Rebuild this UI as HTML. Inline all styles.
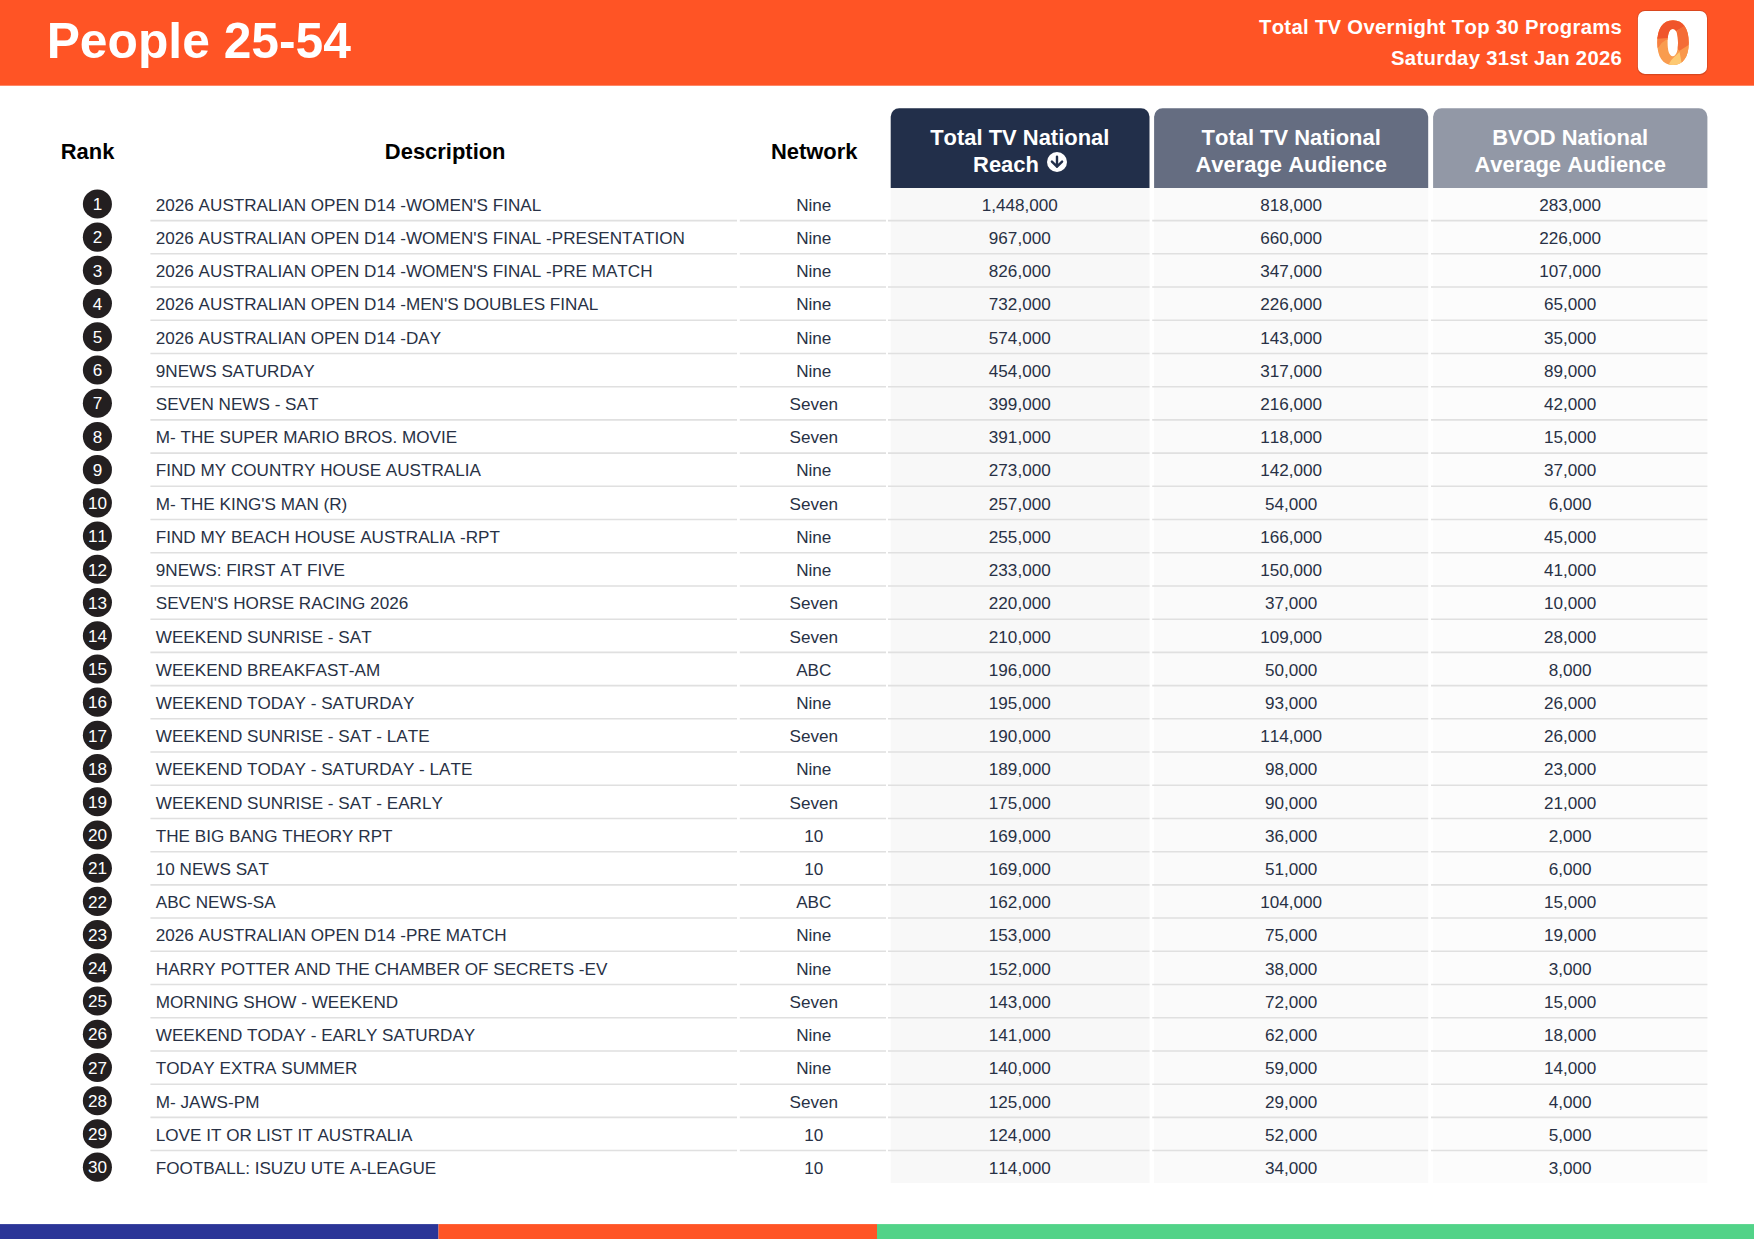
<!DOCTYPE html>
<html lang="en">
<head>
<meta charset="utf-8">
<title>People 25-54 - Total TV Overnight Top 30 Programs</title>
<style>
html,body{margin:0;padding:0;background:#fff;}
body{width:1754px;height:1241px;position:relative;overflow:hidden;font-family:"Liberation Sans",Arial,Helvetica,sans-serif;font-kerning:none;font-feature-settings:"kern" 0,"liga" 0;}
.geo{position:absolute;left:0;top:0;}
.title{position:absolute;left:46.7px;top:12px;font-size:49.75px;line-height:58px;font-weight:bold;color:#fff;white-space:nowrap;}
.sub{position:absolute;right:131.8px;font-size:20.3px;line-height:24px;font-weight:bold;color:#fff;white-space:nowrap;text-align:right;letter-spacing:0.31px;}
.sub1{top:15px;}
.sub2{top:46px;}
.logo{position:absolute;left:1638px;top:10.8px;width:70px;height:64px;}
.th{position:absolute;font-weight:bold;font-size:21.95px;line-height:27px;color:#000;text-align:center;white-space:nowrap;}
.mh{position:absolute;top:124px;color:#fff;font-weight:bold;font-size:21.95px;line-height:27px;text-align:center;white-space:nowrap;}
.ic{position:absolute;left:1046.9px;top:151.9px;}
.rn{position:absolute;left:72.4px;width:50px;height:20px;line-height:20px;font-size:17.12px;color:#fff;text-align:center;}
.c{position:absolute;height:20px;line-height:20px;font-size:17.12px;color:#283145;white-space:nowrap;text-align:center;}
.d{left:155.8px;width:580px;text-align:left;}
.n{left:741.5px;width:144.5px;}
.m1{left:890.2px;width:259.2px;}
.m2{left:1154.2px;width:274px;}
.m3{left:1433px;width:274.4px;}
</style>
</head>
<body>
<svg class="geo" width="1754" height="1241" viewBox="0 0 1754 1241">
<rect x="0" y="0" width="1754" height="85.7" fill="#ff5425"/>
<rect x="1637.1" y="10.1" width="70.7" height="65.1" rx="7.8" ry="7.8" fill="#000" fill-opacity="0.15"/>
<rect x="1637.9" y="10.9" width="69.1" height="63" rx="7" ry="7" fill="#fff"/>
<rect x="890.7" y="187.9" width="258.80" height="995.10" fill="#f8f8f8"/>
<rect x="1154.1" y="187.9" width="274.10" height="995.10" fill="#fafafa"/>
<rect x="1433.1" y="187.9" width="274.30" height="995.10" fill="#fcfcfc"/>
<path d="M890.7 187.9 V116.7 A8.5 8.5 0 0 1 899.2 108.2 H1141.0 A8.5 8.5 0 0 1 1149.5 116.7 V187.9 Z" fill="#222f4a"/>
<path d="M1154.1 187.9 V116.7 A8.5 8.5 0 0 1 1162.6 108.2 H1419.7 A8.5 8.5 0 0 1 1428.2 116.7 V187.9 Z" fill="#656d81"/>
<path d="M1433.1 187.9 V116.7 A8.5 8.5 0 0 1 1441.6 108.2 H1698.9 A8.5 8.5 0 0 1 1707.4 116.7 V187.9 Z" fill="#9298a6"/>
<circle cx="97.4" cy="203.95" r="14.55" fill="#231f20"/>
<path d="M150.4 220.62H737.0M739.8 220.62H886.0M888.0 220.62H1149.5M1152.2 220.62H1428.2M1431.0 220.62H1707.4" stroke="#e0e0e0" stroke-width="1.56" fill="none"/>
<circle cx="97.4" cy="237.16" r="14.55" fill="#231f20"/>
<path d="M150.4 253.83H737.0M739.8 253.83H886.0M888.0 253.83H1149.5M1152.2 253.83H1428.2M1431.0 253.83H1707.4" stroke="#e0e0e0" stroke-width="1.56" fill="none"/>
<circle cx="97.4" cy="270.38" r="14.55" fill="#231f20"/>
<path d="M150.4 287.05H737.0M739.8 287.05H886.0M888.0 287.05H1149.5M1152.2 287.05H1428.2M1431.0 287.05H1707.4" stroke="#e0e0e0" stroke-width="1.56" fill="none"/>
<circle cx="97.4" cy="303.59" r="14.55" fill="#231f20"/>
<path d="M150.4 320.26H737.0M739.8 320.26H886.0M888.0 320.26H1149.5M1152.2 320.26H1428.2M1431.0 320.26H1707.4" stroke="#e0e0e0" stroke-width="1.56" fill="none"/>
<circle cx="97.4" cy="336.80" r="14.55" fill="#231f20"/>
<path d="M150.4 353.47H737.0M739.8 353.47H886.0M888.0 353.47H1149.5M1152.2 353.47H1428.2M1431.0 353.47H1707.4" stroke="#e0e0e0" stroke-width="1.56" fill="none"/>
<circle cx="97.4" cy="370.01" r="14.55" fill="#231f20"/>
<path d="M150.4 386.69H737.0M739.8 386.69H886.0M888.0 386.69H1149.5M1152.2 386.69H1428.2M1431.0 386.69H1707.4" stroke="#e0e0e0" stroke-width="1.56" fill="none"/>
<circle cx="97.4" cy="403.23" r="14.55" fill="#231f20"/>
<path d="M150.4 419.90H737.0M739.8 419.90H886.0M888.0 419.90H1149.5M1152.2 419.90H1428.2M1431.0 419.90H1707.4" stroke="#e0e0e0" stroke-width="1.56" fill="none"/>
<circle cx="97.4" cy="436.44" r="14.55" fill="#231f20"/>
<path d="M150.4 453.11H737.0M739.8 453.11H886.0M888.0 453.11H1149.5M1152.2 453.11H1428.2M1431.0 453.11H1707.4" stroke="#e0e0e0" stroke-width="1.56" fill="none"/>
<circle cx="97.4" cy="469.65" r="14.55" fill="#231f20"/>
<path d="M150.4 486.32H737.0M739.8 486.32H886.0M888.0 486.32H1149.5M1152.2 486.32H1428.2M1431.0 486.32H1707.4" stroke="#e0e0e0" stroke-width="1.56" fill="none"/>
<circle cx="97.4" cy="502.87" r="14.55" fill="#231f20"/>
<path d="M150.4 519.54H737.0M739.8 519.54H886.0M888.0 519.54H1149.5M1152.2 519.54H1428.2M1431.0 519.54H1707.4" stroke="#e0e0e0" stroke-width="1.56" fill="none"/>
<circle cx="97.4" cy="536.08" r="14.55" fill="#231f20"/>
<path d="M150.4 552.75H737.0M739.8 552.75H886.0M888.0 552.75H1149.5M1152.2 552.75H1428.2M1431.0 552.75H1707.4" stroke="#e0e0e0" stroke-width="1.56" fill="none"/>
<circle cx="97.4" cy="569.29" r="14.55" fill="#231f20"/>
<path d="M150.4 585.96H737.0M739.8 585.96H886.0M888.0 585.96H1149.5M1152.2 585.96H1428.2M1431.0 585.96H1707.4" stroke="#e0e0e0" stroke-width="1.56" fill="none"/>
<circle cx="97.4" cy="602.51" r="14.55" fill="#231f20"/>
<path d="M150.4 619.18H737.0M739.8 619.18H886.0M888.0 619.18H1149.5M1152.2 619.18H1428.2M1431.0 619.18H1707.4" stroke="#e0e0e0" stroke-width="1.56" fill="none"/>
<circle cx="97.4" cy="635.72" r="14.55" fill="#231f20"/>
<path d="M150.4 652.39H737.0M739.8 652.39H886.0M888.0 652.39H1149.5M1152.2 652.39H1428.2M1431.0 652.39H1707.4" stroke="#e0e0e0" stroke-width="1.56" fill="none"/>
<circle cx="97.4" cy="668.93" r="14.55" fill="#231f20"/>
<path d="M150.4 685.60H737.0M739.8 685.60H886.0M888.0 685.60H1149.5M1152.2 685.60H1428.2M1431.0 685.60H1707.4" stroke="#e0e0e0" stroke-width="1.56" fill="none"/>
<circle cx="97.4" cy="702.14" r="14.55" fill="#231f20"/>
<path d="M150.4 718.82H737.0M739.8 718.82H886.0M888.0 718.82H1149.5M1152.2 718.82H1428.2M1431.0 718.82H1707.4" stroke="#e0e0e0" stroke-width="1.56" fill="none"/>
<circle cx="97.4" cy="735.36" r="14.55" fill="#231f20"/>
<path d="M150.4 752.03H737.0M739.8 752.03H886.0M888.0 752.03H1149.5M1152.2 752.03H1428.2M1431.0 752.03H1707.4" stroke="#e0e0e0" stroke-width="1.56" fill="none"/>
<circle cx="97.4" cy="768.57" r="14.55" fill="#231f20"/>
<path d="M150.4 785.24H737.0M739.8 785.24H886.0M888.0 785.24H1149.5M1152.2 785.24H1428.2M1431.0 785.24H1707.4" stroke="#e0e0e0" stroke-width="1.56" fill="none"/>
<circle cx="97.4" cy="801.78" r="14.55" fill="#231f20"/>
<path d="M150.4 818.45H737.0M739.8 818.45H886.0M888.0 818.45H1149.5M1152.2 818.45H1428.2M1431.0 818.45H1707.4" stroke="#e0e0e0" stroke-width="1.56" fill="none"/>
<circle cx="97.4" cy="835.00" r="14.55" fill="#231f20"/>
<path d="M150.4 851.67H737.0M739.8 851.67H886.0M888.0 851.67H1149.5M1152.2 851.67H1428.2M1431.0 851.67H1707.4" stroke="#e0e0e0" stroke-width="1.56" fill="none"/>
<circle cx="97.4" cy="868.21" r="14.55" fill="#231f20"/>
<path d="M150.4 884.88H737.0M739.8 884.88H886.0M888.0 884.88H1149.5M1152.2 884.88H1428.2M1431.0 884.88H1707.4" stroke="#e0e0e0" stroke-width="1.56" fill="none"/>
<circle cx="97.4" cy="901.42" r="14.55" fill="#231f20"/>
<path d="M150.4 918.09H737.0M739.8 918.09H886.0M888.0 918.09H1149.5M1152.2 918.09H1428.2M1431.0 918.09H1707.4" stroke="#e0e0e0" stroke-width="1.56" fill="none"/>
<circle cx="97.4" cy="934.64" r="14.55" fill="#231f20"/>
<path d="M150.4 951.31H737.0M739.8 951.31H886.0M888.0 951.31H1149.5M1152.2 951.31H1428.2M1431.0 951.31H1707.4" stroke="#e0e0e0" stroke-width="1.56" fill="none"/>
<circle cx="97.4" cy="967.85" r="14.55" fill="#231f20"/>
<path d="M150.4 984.52H737.0M739.8 984.52H886.0M888.0 984.52H1149.5M1152.2 984.52H1428.2M1431.0 984.52H1707.4" stroke="#e0e0e0" stroke-width="1.56" fill="none"/>
<circle cx="97.4" cy="1001.06" r="14.55" fill="#231f20"/>
<path d="M150.4 1017.73H737.0M739.8 1017.73H886.0M888.0 1017.73H1149.5M1152.2 1017.73H1428.2M1431.0 1017.73H1707.4" stroke="#e0e0e0" stroke-width="1.56" fill="none"/>
<circle cx="97.4" cy="1034.28" r="14.55" fill="#231f20"/>
<path d="M150.4 1050.95H737.0M739.8 1050.95H886.0M888.0 1050.95H1149.5M1152.2 1050.95H1428.2M1431.0 1050.95H1707.4" stroke="#e0e0e0" stroke-width="1.56" fill="none"/>
<circle cx="97.4" cy="1067.49" r="14.55" fill="#231f20"/>
<path d="M150.4 1084.16H737.0M739.8 1084.16H886.0M888.0 1084.16H1149.5M1152.2 1084.16H1428.2M1431.0 1084.16H1707.4" stroke="#e0e0e0" stroke-width="1.56" fill="none"/>
<circle cx="97.4" cy="1100.70" r="14.55" fill="#231f20"/>
<path d="M150.4 1117.37H737.0M739.8 1117.37H886.0M888.0 1117.37H1149.5M1152.2 1117.37H1428.2M1431.0 1117.37H1707.4" stroke="#e0e0e0" stroke-width="1.56" fill="none"/>
<circle cx="97.4" cy="1133.91" r="14.55" fill="#231f20"/>
<path d="M150.4 1150.58H737.0M739.8 1150.58H886.0M888.0 1150.58H1149.5M1152.2 1150.58H1428.2M1431.0 1150.58H1707.4" stroke="#e0e0e0" stroke-width="1.56" fill="none"/>
<circle cx="97.4" cy="1167.13" r="14.55" fill="#231f20"/>
<rect x="0" y="1224.1" width="438.5" height="14.9" fill="#2b3597"/>
<rect x="438.5" y="1224.1" width="438.5" height="14.9" fill="#ff5425"/>
<rect x="877" y="1224.1" width="877" height="14.9" fill="#52d388"/>
</svg>
<div class="title">People 25-54</div>
<div class="sub sub1">Total TV Overnight Top 30 Programs</div>
<div class="sub sub2">Saturday 31st Jan 2026</div>
<svg class="logo" width="70" height="64" viewBox="0 0 70 64">
<defs><clipPath id="zero"><path clip-rule="evenodd" d="M35 9.3 C45.4 9.3 50.8 17.8 50.8 31.65 C50.8 45.5 45.4 54 35 54 C24.6 54 19.25 45.5 19.25 31.65 C19.25 17.8 24.6 9.3 35 9.3 Z M34.8 17.9 C31 17.9 29.6 24 29.6 31.55 C29.6 39.1 31 45.2 34.8 45.2 C38.6 45.2 40 39.1 40 31.55 C40 24 38.6 17.9 34.8 17.9 Z"/></clipPath></defs>
<g clip-path="url(#zero)">
<rect x="0" y="0" width="70" height="64" fill="#f99c4f"/>
<path d="M10 26 L30 26 L30 28.7 L28.05 28.7 Q23.3 31.2 20.8 36.1 L10 42 Z" fill="#f78040"/>
<path d="M41.6 39.75 L60 28.05 L60 64 L44.2 64 L43.4 51 L41.6 41.1 Z" fill="#f9974b"/>
<path d="M41.6 41.1 L43.4 51 L44.2 64 L27 64 L31.2 52.4 Q33.5 48.5 36.2 46.1 Q39 43.6 41.6 41.1 Z" fill="#fdc972"/>
<path d="M39.8 19 L60 7.5 L60 28.05 L41.6 39.75 L40.2 38.85 L36 30 Z" fill="#f46c36"/>
<path d="M0 0 L64 0 L60 7.5 L39.8 19 L35 24 L29.4 27.1 L19.7 27.8 L10 28.2 Z" fill="#f0552b"/>
</g>
</svg>

<div class="th" style="left:37.6px;width:100px;top:138px;">Rank</div>
<div class="th" style="left:345.2px;width:200px;top:138px;">Description</div>
<div class="th" style="left:714.2px;width:200px;top:138px;">Network</div>

<div class="mh" style="left:890.2px;width:259.2px;">Total TV National<br><span style="margin-left:-27.6px">Reach</span></div>
<svg class="ic" width="20" height="20" viewBox="0 0 20 20"><circle cx="10" cy="10" r="10" fill="#fff"/><path d="M10 4.6 V14.7 M4.9 9.6 L10 14.7 L15.1 9.6" fill="none" stroke="#222f4a" stroke-width="2.4" stroke-linecap="round" stroke-linejoin="round"/></svg>
<div class="mh" style="left:1154.2px;width:274px;">Total TV National<br>Average Audience</div>
<div class="mh" style="left:1433px;width:274.4px;">BVOD National<br>Average Audience</div>

<div class="rn" style="top:195px">1</div><div class="c d" style="top:196px">2026 AUSTRALIAN OPEN D14 -WOMEN'S FINAL</div><div class="c n" style="top:196px">Nine</div><div class="c m1" style="top:196px">1,448,000</div><div class="c m2" style="top:196px">818,000</div><div class="c m3" style="top:196px">283,000</div>
<div class="rn" style="top:228px">2</div><div class="c d" style="top:229px">2026 AUSTRALIAN OPEN D14 -WOMEN'S FINAL -PRESENTATION</div><div class="c n" style="top:229px">Nine</div><div class="c m1" style="top:229px">967,000</div><div class="c m2" style="top:229px">660,000</div><div class="c m3" style="top:229px">226,000</div>
<div class="rn" style="top:262px">3</div><div class="c d" style="top:262px">2026 AUSTRALIAN OPEN D14 -WOMEN'S FINAL -PRE MATCH</div><div class="c n" style="top:262px">Nine</div><div class="c m1" style="top:262px">826,000</div><div class="c m2" style="top:262px">347,000</div><div class="c m3" style="top:262px">107,000</div>
<div class="rn" style="top:295px">4</div><div class="c d" style="top:295px">2026 AUSTRALIAN OPEN D14 -MEN'S DOUBLES FINAL</div><div class="c n" style="top:295px">Nine</div><div class="c m1" style="top:295px">732,000</div><div class="c m2" style="top:295px">226,000</div><div class="c m3" style="top:295px">65,000</div>
<div class="rn" style="top:328px">5</div><div class="c d" style="top:329px">2026 AUSTRALIAN OPEN D14 -DAY</div><div class="c n" style="top:329px">Nine</div><div class="c m1" style="top:329px">574,000</div><div class="c m2" style="top:329px">143,000</div><div class="c m3" style="top:329px">35,000</div>
<div class="rn" style="top:361px">6</div><div class="c d" style="top:362px">9NEWS SATURDAY</div><div class="c n" style="top:362px">Nine</div><div class="c m1" style="top:362px">454,000</div><div class="c m2" style="top:362px">317,000</div><div class="c m3" style="top:362px">89,000</div>
<div class="rn" style="top:394px">7</div><div class="c d" style="top:395px">SEVEN NEWS - SAT</div><div class="c n" style="top:395px">Seven</div><div class="c m1" style="top:395px">399,000</div><div class="c m2" style="top:395px">216,000</div><div class="c m3" style="top:395px">42,000</div>
<div class="rn" style="top:428px">8</div><div class="c d" style="top:428px">M- THE SUPER MARIO BROS. MOVIE</div><div class="c n" style="top:428px">Seven</div><div class="c m1" style="top:428px">391,000</div><div class="c m2" style="top:428px">118,000</div><div class="c m3" style="top:428px">15,000</div>
<div class="rn" style="top:461px">9</div><div class="c d" style="top:461px">FIND MY COUNTRY HOUSE AUSTRALIA</div><div class="c n" style="top:461px">Nine</div><div class="c m1" style="top:461px">273,000</div><div class="c m2" style="top:461px">142,000</div><div class="c m3" style="top:461px">37,000</div>
<div class="rn" style="top:494px">10</div><div class="c d" style="top:495px">M- THE KING'S MAN (R)</div><div class="c n" style="top:495px">Seven</div><div class="c m1" style="top:495px">257,000</div><div class="c m2" style="top:495px">54,000</div><div class="c m3" style="top:495px">6,000</div>
<div class="rn" style="top:527px">11</div><div class="c d" style="top:528px">FIND MY BEACH HOUSE AUSTRALIA -RPT</div><div class="c n" style="top:528px">Nine</div><div class="c m1" style="top:528px">255,000</div><div class="c m2" style="top:528px">166,000</div><div class="c m3" style="top:528px">45,000</div>
<div class="rn" style="top:561px">12</div><div class="c d" style="top:561px">9NEWS: FIRST AT FIVE</div><div class="c n" style="top:561px">Nine</div><div class="c m1" style="top:561px">233,000</div><div class="c m2" style="top:561px">150,000</div><div class="c m3" style="top:561px">41,000</div>
<div class="rn" style="top:594px">13</div><div class="c d" style="top:594px">SEVEN'S HORSE RACING 2026</div><div class="c n" style="top:594px">Seven</div><div class="c m1" style="top:594px">220,000</div><div class="c m2" style="top:594px">37,000</div><div class="c m3" style="top:594px">10,000</div>
<div class="rn" style="top:627px">14</div><div class="c d" style="top:628px">WEEKEND SUNRISE - SAT</div><div class="c n" style="top:628px">Seven</div><div class="c m1" style="top:628px">210,000</div><div class="c m2" style="top:628px">109,000</div><div class="c m3" style="top:628px">28,000</div>
<div class="rn" style="top:660px">15</div><div class="c d" style="top:661px">WEEKEND BREAKFAST-AM</div><div class="c n" style="top:661px">ABC</div><div class="c m1" style="top:661px">196,000</div><div class="c m2" style="top:661px">50,000</div><div class="c m3" style="top:661px">8,000</div>
<div class="rn" style="top:693px">16</div><div class="c d" style="top:694px">WEEKEND TODAY - SATURDAY</div><div class="c n" style="top:694px">Nine</div><div class="c m1" style="top:694px">195,000</div><div class="c m2" style="top:694px">93,000</div><div class="c m3" style="top:694px">26,000</div>
<div class="rn" style="top:727px">17</div><div class="c d" style="top:727px">WEEKEND SUNRISE - SAT - LATE</div><div class="c n" style="top:727px">Seven</div><div class="c m1" style="top:727px">190,000</div><div class="c m2" style="top:727px">114,000</div><div class="c m3" style="top:727px">26,000</div>
<div class="rn" style="top:760px">18</div><div class="c d" style="top:760px">WEEKEND TODAY - SATURDAY - LATE</div><div class="c n" style="top:760px">Nine</div><div class="c m1" style="top:760px">189,000</div><div class="c m2" style="top:760px">98,000</div><div class="c m3" style="top:760px">23,000</div>
<div class="rn" style="top:793px">19</div><div class="c d" style="top:794px">WEEKEND SUNRISE - SAT - EARLY</div><div class="c n" style="top:794px">Seven</div><div class="c m1" style="top:794px">175,000</div><div class="c m2" style="top:794px">90,000</div><div class="c m3" style="top:794px">21,000</div>
<div class="rn" style="top:826px">20</div><div class="c d" style="top:827px">THE BIG BANG THEORY RPT</div><div class="c n" style="top:827px">10</div><div class="c m1" style="top:827px">169,000</div><div class="c m2" style="top:827px">36,000</div><div class="c m3" style="top:827px">2,000</div>
<div class="rn" style="top:859px">21</div><div class="c d" style="top:860px">10 NEWS SAT</div><div class="c n" style="top:860px">10</div><div class="c m1" style="top:860px">169,000</div><div class="c m2" style="top:860px">51,000</div><div class="c m3" style="top:860px">6,000</div>
<div class="rn" style="top:893px">22</div><div class="c d" style="top:893px">ABC NEWS-SA</div><div class="c n" style="top:893px">ABC</div><div class="c m1" style="top:893px">162,000</div><div class="c m2" style="top:893px">104,000</div><div class="c m3" style="top:893px">15,000</div>
<div class="rn" style="top:926px">23</div><div class="c d" style="top:926px">2026 AUSTRALIAN OPEN D14 -PRE MATCH</div><div class="c n" style="top:926px">Nine</div><div class="c m1" style="top:926px">153,000</div><div class="c m2" style="top:926px">75,000</div><div class="c m3" style="top:926px">19,000</div>
<div class="rn" style="top:959px">24</div><div class="c d" style="top:960px">HARRY POTTER AND THE CHAMBER OF SECRETS -EV</div><div class="c n" style="top:960px">Nine</div><div class="c m1" style="top:960px">152,000</div><div class="c m2" style="top:960px">38,000</div><div class="c m3" style="top:960px">3,000</div>
<div class="rn" style="top:992px">25</div><div class="c d" style="top:993px">MORNING SHOW - WEEKEND</div><div class="c n" style="top:993px">Seven</div><div class="c m1" style="top:993px">143,000</div><div class="c m2" style="top:993px">72,000</div><div class="c m3" style="top:993px">15,000</div>
<div class="rn" style="top:1025px">26</div><div class="c d" style="top:1026px">WEEKEND TODAY - EARLY SATURDAY</div><div class="c n" style="top:1026px">Nine</div><div class="c m1" style="top:1026px">141,000</div><div class="c m2" style="top:1026px">62,000</div><div class="c m3" style="top:1026px">18,000</div>
<div class="rn" style="top:1059px">27</div><div class="c d" style="top:1059px">TODAY EXTRA SUMMER</div><div class="c n" style="top:1059px">Nine</div><div class="c m1" style="top:1059px">140,000</div><div class="c m2" style="top:1059px">59,000</div><div class="c m3" style="top:1059px">14,000</div>
<div class="rn" style="top:1092px">28</div><div class="c d" style="top:1093px">M- JAWS-PM</div><div class="c n" style="top:1093px">Seven</div><div class="c m1" style="top:1093px">125,000</div><div class="c m2" style="top:1093px">29,000</div><div class="c m3" style="top:1093px">4,000</div>
<div class="rn" style="top:1125px">29</div><div class="c d" style="top:1126px">LOVE IT OR LIST IT AUSTRALIA</div><div class="c n" style="top:1126px">10</div><div class="c m1" style="top:1126px">124,000</div><div class="c m2" style="top:1126px">52,000</div><div class="c m3" style="top:1126px">5,000</div>
<div class="rn" style="top:1158px">30</div><div class="c d" style="top:1159px">FOOTBALL: ISUZU UTE A-LEAGUE</div><div class="c n" style="top:1159px">10</div><div class="c m1" style="top:1159px">114,000</div><div class="c m2" style="top:1159px">34,000</div><div class="c m3" style="top:1159px">3,000</div>
</body>
</html>
